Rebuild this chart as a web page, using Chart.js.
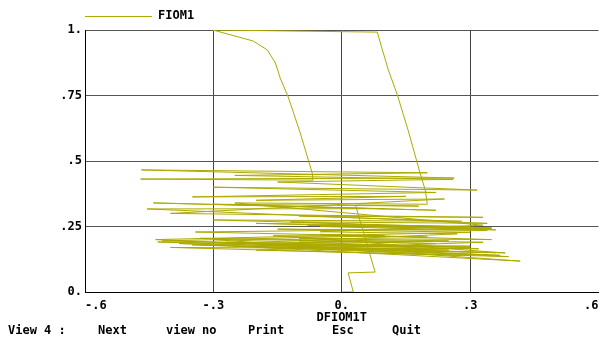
<!DOCTYPE html>
<html>
<head>
<meta charset="utf-8" />
<title>FIOM1 vs DFIOM1T</title>
<script src="https://cdn.jsdelivr.net/npm/chart.js@4.4.1/dist/chart.umd.min.js"></script>
<style>
	html, body { margin: 0; padding: 0; background: #fff; }
	#wrap { width: 600px; height: 337px; position: relative; }
</style>
</head>
<body>
<div id="wrap"><canvas id="chart" width="600" height="337"></canvas></div>
<script>
// trajectory of FIOM1 against DFIOM1T
var seriesName = "FIOM1";
var xTitle = "DFIOM1T";
var xTicks = [-0.6, -0.3, 0, 0.3, 0.6];
var xTickLabels = ["-.6", "-.3", "0.", ".3", ".6"];
var yTicks = [0, 0.25, 0.5, 0.75, 1];
var yTickLabels = ["0.", ".25", ".5", ".75", "1."];
var menuItems = ["View 4 :", "Next", "view no", "Print", "Esc", "Quit"];

var xs = [0.001, 0.027, 0.015, 0.078, 0.032,
	0.18, -0.30, 0.22, -0.44, 0.10, -0.455, 0.34, -0.12, 0.36, -0.20, 0.30, -0.08, 0.35,
	-0.342, 0.20, -0.16, 0.382, -0.43, 0.30, -0.30, 0.417, -0.25, 0.25, -0.38, 0.28,
	-0.20, 0.33, -0.33, 0.22, -0.10, 0.27, -0.05, 0.33, -0.25, 0.20,
	0.195, 0.183, 0.155, 0.130, 0.109, 0.095, 0.083, -0.301,
	-0.207, -0.174, -0.155, -0.144, -0.125, -0.097, -0.069, -0.067,
	-0.47, 0.263, -0.468, 0.20, -0.25, 0.26, -0.15, 0.316, -0.30, 0.22, -0.349, 0.15, -0.20, 0.24,
	-0.40, 0.33, -0.10, 0.28, -0.30, 0.35, -0.05, 0.34, -0.15, 0.30, -0.435, 0.37,
	-0.35, 0.36, -0.20, 0.30, -0.28, 0.25, -0.10, 0.35, -0.05, 0.10,
	-0.42, 0.21, -0.27, 0.39, -0.40, 0.32, -0.18, 0.29];
var ys = [0.000, 0.000, 0.073, 0.076, 0.332,
	0.328, 0.335, 0.312, 0.340, 0.318, 0.317, 0.262, 0.268, 0.237, 0.262, 0.250, 0.255, 0.242,
	0.229, 0.210, 0.215, 0.149, 0.191, 0.170, 0.200, 0.118, 0.175, 0.160, 0.185, 0.140,
	0.160, 0.190, 0.205, 0.185, 0.195, 0.222, 0.230, 0.255, 0.340, 0.335,
	0.390, 0.454, 0.618, 0.752, 0.847, 0.924, 0.992, 1.000,
	0.958, 0.924, 0.874, 0.817, 0.744, 0.607, 0.454, 0.427,
	0.431, 0.435, 0.466, 0.455, 0.445, 0.430, 0.420, 0.389, 0.400, 0.380, 0.363, 0.365, 0.350, 0.355,
	0.300, 0.285, 0.290, 0.270, 0.275, 0.245, 0.250, 0.235, 0.240, 0.228, 0.200, 0.140,
	0.180, 0.150, 0.170, 0.175, 0.185, 0.195, 0.205, 0.200, 0.220, 0.215,
	0.195, 0.175, 0.190, 0.135, 0.170, 0.165, 0.180, 0.172];

var lineColor = "rgb(172,170,0)";
var font = { family: "'DejaVu Sans Mono', monospace", size: 12, weight: "bold" };

var points = xs.map(function (x, i) { return { x: x, y: ys[i] }; });

function fmt(list, labels, v) {
	for (var i = 0; i < list.length; i++) {
		if (Math.abs(list[i] - v) < 1e-6) return labels[i];
	}
	return "";
}

// legend, axis title and the menu row under the plot
var extras = {
	id: "extras",
	afterDraw: function (chart) {
		var c = chart.ctx, a = chart.chartArea;
		c.save();
		c.strokeStyle = lineColor;
		c.lineWidth = 1;
		c.beginPath();
		c.moveTo(a.left, 16.5);
		c.lineTo(a.left + 67, 16.5);
		c.stroke();
		c.fillStyle = "#000";
		c.font = "bold 12px 'DejaVu Sans Mono', monospace";
		c.textBaseline = "middle";
		c.textAlign = "left";
		c.fillText(seriesName, a.left + 73, 16);
		c.textAlign = "center";
		c.fillText(xTitle, chart.scales.x.getPixelForValue(0), 318);
		c.textAlign = "left";
		var mx = [8, 98, 166, 248, 332, 392];
		menuItems.forEach(function (t, i) { c.fillText(t, mx[i], 331); });
		c.restore();
	}
};

new Chart(document.getElementById("chart"), {
	type: "scatter",
	data: {
		datasets: [{
			label: seriesName,
			data: points,
			showLine: true,
			borderColor: lineColor,
			backgroundColor: lineColor,
			borderWidth: 1,
			pointRadius: 0,
			tension: 0
		}]
	},
	options: {
		responsive: false,
		animation: false,
		layout: { padding: { top: 30, right: 1.5, left: 0, bottom: 0 } },
		plugins: { legend: { display: false }, tooltip: { enabled: false } },
		scales: {
			x: {
				type: "linear", min: -0.6, max: 0.6,
				afterBuildTicks: function (s) { s.ticks = xTicks.map(function (v) { return { value: v }; }); },
				afterFit: function (s) { s.height = 45; s.paddingLeft = 0; s.paddingRight = 0; },
				ticks: {
					font: font, color: "#000", padding: 7, maxRotation: 0, align: "inner",
					callback: function (v) { return fmt(xTicks, xTickLabels, v); }
				},
				grid: {
					drawTicks: false,
					color: function (ctx) { return ctx.tick && ctx.tick.value > 0.59 ? "rgba(0,0,0,0)" : "#444"; }
				},
				border: { color: "#000", width: 1 }
			},
			y: {
				type: "linear", min: 0, max: 1,
				afterBuildTicks: function (s) { s.ticks = yTicks.map(function (v) { return { value: v }; }); },
				afterFit: function (s) { s.width = 85; s.paddingTop = 0; s.paddingBottom = 0; },
				ticks: {
					font: font, color: "#000", padding: 3,
					callback: function (v) { return fmt(yTicks, yTickLabels, v); }
				},
				grid: { drawTicks: false, color: "#555" },
				border: { color: "#000", width: 1 }
			}
		}
	},
	plugins: [extras]
});
</script>
</body>
</html>
